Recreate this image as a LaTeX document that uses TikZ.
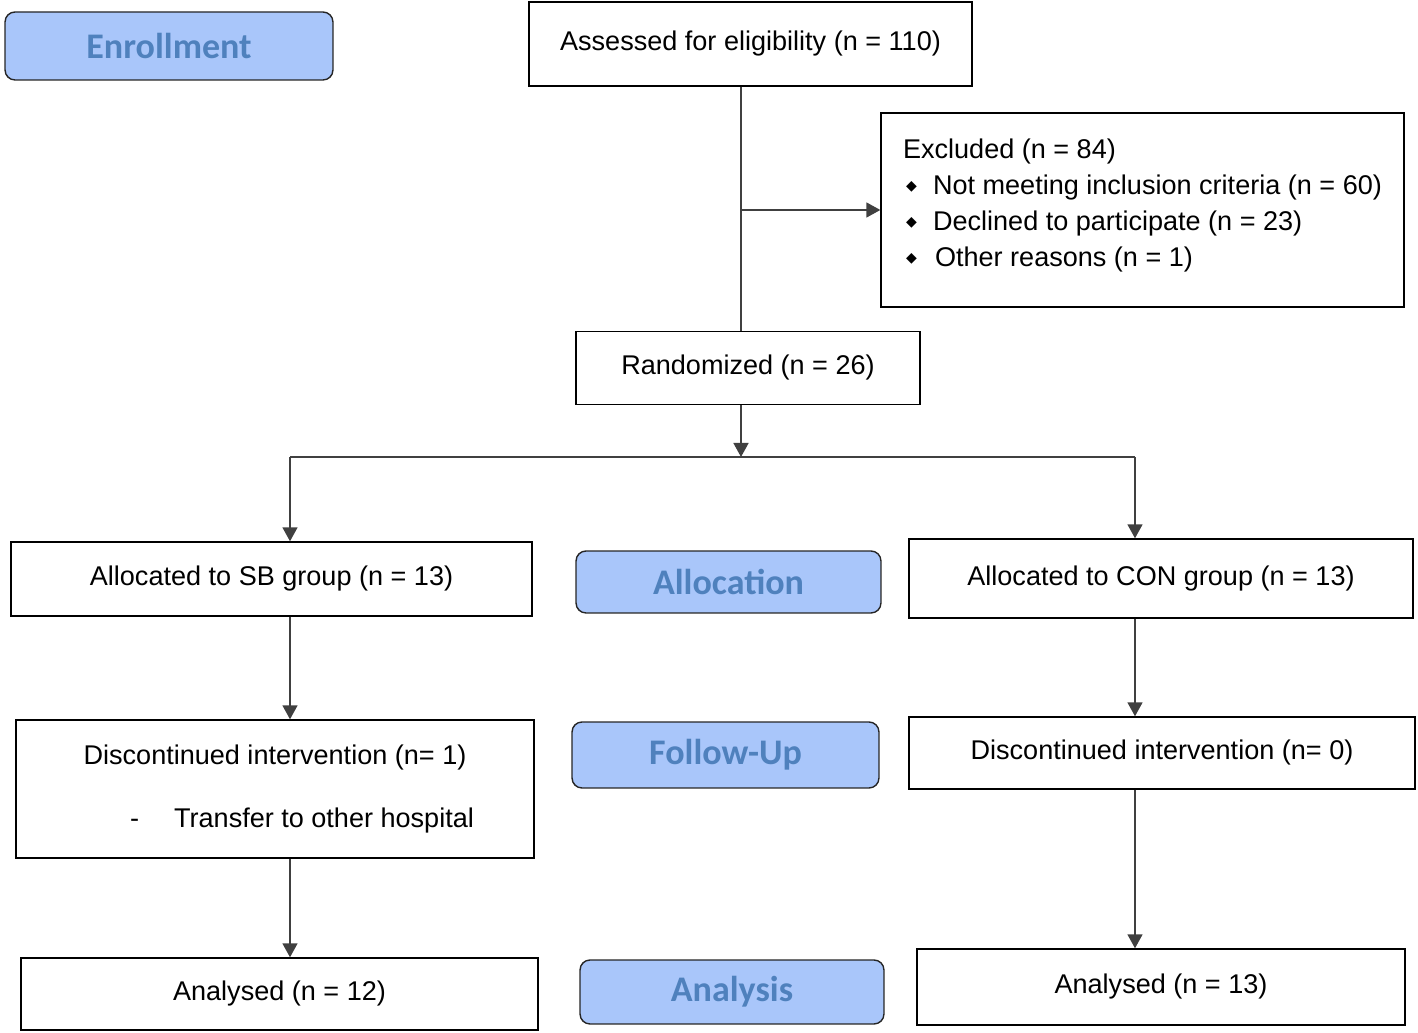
\documentclass[tikz,border=0pt]{standalone}
\usepackage{fontspec}
\setmainfont{Liberation Sans}
\newfontfamily\phasefont{Carlito}
\newfontfamily\symfont{DejaVu Sans}
\usepackage{xcolor}
\usepackage{tikz}
\usetikzlibrary{arrows.meta, positioning, calc}

\definecolor{phasefill}{RGB}{169,198,250}
\definecolor{phasetext}{RGB}{79,129,189}
\newcommand{\bul}{\makebox[0.6cm][l]{\hspace{0.06cm}\raisebox{0.07cm}{\symfont\fontsize{8}{8}\selectfont ◆}}}

\begin{document}
\begin{tikzpicture}[x=0.02cm, y=-0.02cm,
  box/.style={draw=black, line width=0.8pt, fill=white, align=center,
    font=\fontsize{15.4}{20.5}\selectfont},
  phase/.style={draw=black!85, line width=0.8pt, rounded corners=0.2cm,
    fill=phasefill, text=phasetext, font=\phasefont\bfseries\fontsize{20.5}{24}\selectfont},
  arr/.style={draw=black!75, line width=0.9pt, -{Triangle[length=0.28cm,width=0.3cm]}},
  line/.style={draw=black!75, line width=0.9pt}]

  % Frame
  \useasboundingbox (0,0) rectangle (1418,1033);

  % --- 1. Phase labels ---
  \node[phase, minimum width=6.56cm, minimum height=1.36cm] (enroll) at (169,46) {Enrollment};
  \node[phase, minimum width=6.1cm, minimum height=1.24cm] (alloc) at (728.5,582) {Allocation};
  \node[phase, minimum width=6.14cm, minimum height=1.32cm] (follow) at (725.5,755) {Follow-Up};
  \node[phase, minimum width=6.08cm, minimum height=1.28cm] (analysis) at (732,992) {Analysis};

  % --- 2. Enrollment ---
  \node[box, minimum width=8.86cm, minimum height=1.68cm] (assess) at (750.5,44)
    {Assessed for eligibility (n = 110)};
  \node[box, minimum width=10.46cm, minimum height=3.88cm, align=left] (excl) at (1142.5,210)
    {Excluded (n = 84)\\
     \bul Not meeting inclusion criteria (n = 60)\\
     \bul Declined to participate (n = 23)\\
     \bul\hspace{0.04cm}Other reasons (n = 1)\\[-0.64cm]\strut};
  \node[box, minimum width=6.88cm, minimum height=1.46cm] (rand) at (748,368)
    {Randomized (n = 26)};

  % --- 3. Arms ---
  \node[box, minimum width=10.42cm, minimum height=1.48cm] (sb) at (271.5,579)
    {Allocated to SB group (n = 13)};
  \node[box, minimum width=10.08cm, minimum height=1.58cm] (con) at (1161,578.5)
    {Allocated to CON group (n = 13)};
  \node[box, minimum width=10.36cm, minimum height=2.76cm] (discsb) at (275,789)
    {Discontinued intervention (n= 1)\\[0.54cm]
     \hspace*{1.08cm}-\hspace{0.7cm}Transfer to other hospital};
  \node[box, minimum width=10.12cm, minimum height=1.44cm] (disccon) at (1162,753)
    {Discontinued intervention (n= 0)};
  \node[box, minimum width=10.34cm, minimum height=1.44cm] (ansb) at (279.5,994)
    {Analysed (n = 12)};
  \node[box, minimum width=9.76cm, minimum height=1.52cm] (ancon) at (1161,987)
    {Analysed (n = 13)};

  % --- 4. Connectors ---
  \coordinate (split) at (741,457);
  \coordinate (lsplit) at (290,457);
  \coordinate (rsplit) at (1135,457);

  \draw[line] (assess.south -| split) -- (rand.north -| split);
  \draw[arr] (split |- excl.west) -- (excl.west);
  \draw[arr] (rand.south -| split) -- (split);
  \draw[line] (lsplit) -- (rsplit);
  \draw[arr] (lsplit) -- (lsplit |- sb.north);
  \draw[arr] (rsplit) -- (rsplit |- con.north);

  \draw[arr] (sb.south -| lsplit) -- (discsb.north -| lsplit);
  \draw[arr] (discsb.south -| lsplit) -- (ansb.north -| lsplit);
  \draw[arr] (con.south -| rsplit) -- (disccon.north -| rsplit);
  \draw[arr] (disccon.south -| rsplit) -- (ancon.north -| rsplit);

\end{tikzpicture}
\end{document}
